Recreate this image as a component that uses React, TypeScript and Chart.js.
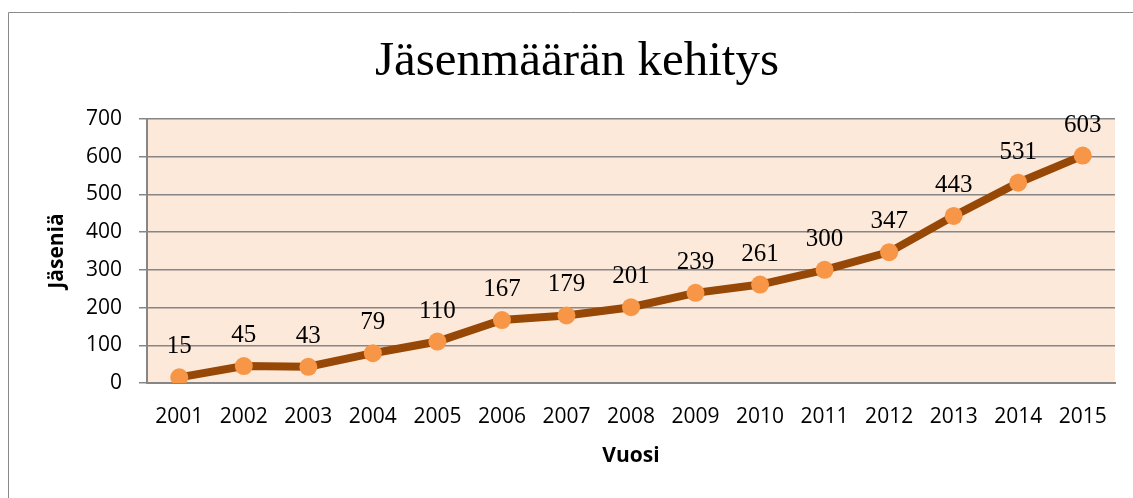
import React, { useEffect, useRef } from "react";
import { Chart, registerables } from "chart.js";

Chart.register(...registerables);

const years = ["2001", "2002", "2003", "2004", "2005", "2006", "2007", "2008", "2009", "2010", "2011", "2012", "2013", "2014", "2015"];
const members = [15, 45, 43, 79, 110, 167, 179, 201, 239, 261, 300, 347, 443, 531, 603];
const chartTitle = "Jäsenmäärän kehitys";
const xTitle = "Vuosi";
const yTitle = "Jäseniä";

const decorPlugin = {
  id: "decor",
  beforeDraw(chart: any) {
    const { ctx, chartArea } = chart;
    ctx.save();
    ctx.fillStyle = "#ffffff";
    ctx.fillRect(0, 0, chart.width, chart.height);
    // outer frame
    ctx.strokeStyle = "#8a8a8a";
    ctx.lineWidth = 1;
    ctx.beginPath();
    ctx.moveTo(8.5, chart.height);
    ctx.lineTo(8.5, 12.5);
    ctx.lineTo(chart.width, 12.5);
    ctx.stroke();
    // plot background
    ctx.fillStyle = "#fde9da";
    ctx.fillRect(chartArea.left, chartArea.top, chartArea.right - chartArea.left, chartArea.bottom - chartArea.top);
    ctx.restore();
  },
  afterDatasetsDraw(chart: any) {
    const { ctx, chartArea } = chart;
    ctx.save();
    // title
    ctx.fillStyle = "#000000";
    ctx.font = '49px "Liberation Serif"';
    ctx.textAlign = "center";
    ctx.textBaseline = "alphabetic";
    ctx.fillText(chartTitle, 577, 75);
    // data labels
    const meta = chart.getDatasetMeta(0);
    ctx.font = '25px "Liberation Serif"';
    meta.data.forEach((pt: any, i: number) => {
      ctx.fillText(String(members[i]), pt.x, pt.y - 24);
    });
    // axis titles
    ctx.font = 'bold 21px "Open Sans"';
    ctx.textBaseline = "middle";
    ctx.fillText(xTitle, (chartArea.left + chartArea.right) / 2, 456);
    ctx.translate(57, (chartArea.top + chartArea.bottom) / 2);
    ctx.rotate(-Math.PI / 2);
    ctx.fillText(yTitle, 0, 0);
    ctx.restore();
  },
};

export default function App() {
  const ref = useRef<HTMLCanvasElement | null>(null);
  useEffect(() => {
    if (!ref.current) return;
    const chart = new Chart(ref.current, {
      type: "line",
      data: {
        labels: years,
        datasets: [
          {
            data: members,
            borderColor: "#974806",
            borderWidth: 8,
            tension: 0,
            pointRadius: 9,
            pointHoverRadius: 9,
            pointBorderWidth: 0,
            pointBackgroundColor: "#f79646",
            pointBorderColor: "#f79646",
          },
        ],
      },
      options: {
        animation: false,
        responsive: false,
        layout: { padding: { left: 0, right: 18, top: 119, bottom: 0 } },
        plugins: { legend: { display: false }, title: { display: false }, tooltip: { enabled: false } },
        scales: {
          x: {
            offset: true,
            grid: { display: false, drawTicks: false },
            border: { display: true, color: "#868686", width: 2 },
            ticks: { color: "#000", font: { family: "Open Sans", size: 21 }, padding: 21, maxRotation: 0, autoSkip: false },
            afterFit(scale: any) {
              scale.height = 115;
            },
          },
          y: {
            min: 0,
            max: 700,
            grid: { color: "#868686", lineWidth: 1.5, tickLength: 8, tickColor: "#868686" },
            border: { display: true, color: "#868686", width: 2 },
            ticks: { stepSize: 100, color: "#000", font: { family: "Open Sans", size: 21 }, padding: 17 },
            afterFit(scale: any) {
              scale.width = 147;
            },
          },
        },
      },
      plugins: [decorPlugin],
    });
    return () => chart.destroy();
  }, []);
  return (
    <div style={{ position: "absolute", left: 0, top: 0, width: 1133, height: 498 }}>
      <canvas ref={ref} width={1133} height={498} style={{ display: "block" }} />
    </div>
  );
}
